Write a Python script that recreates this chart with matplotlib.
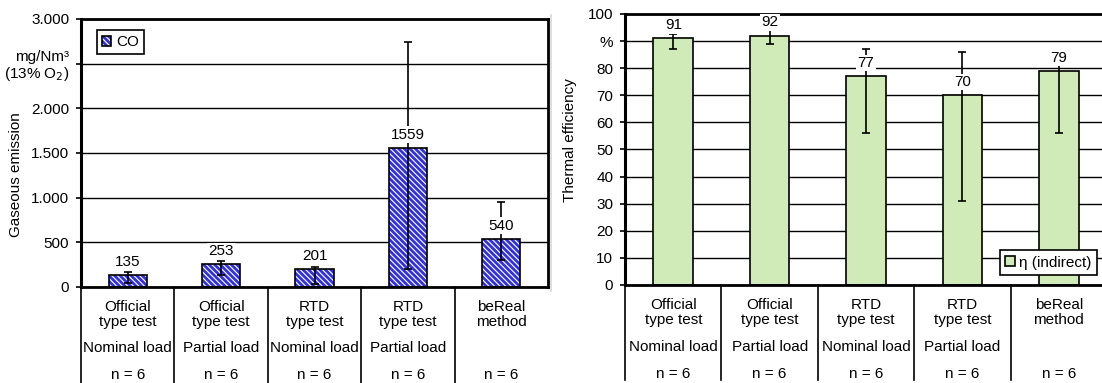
import numpy as np
import matplotlib
matplotlib.use("Agg")
import matplotlib.pyplot as plt
from matplotlib.lines import Line2D
from matplotlib.legend_handler import HandlerTuple

plt.rcParams['font.family'] = ['Liberation Sans', 'DejaVu Sans']
plt.rcParams['font.size'] = 11
plt.rcParams['hatch.linewidth'] = 2.0

# categories shown in the table under both charts
methods = ['Official\ntype test', 'Official\ntype test', 'RTD\ntype test',
           'RTD\ntype test', 'beReal\nmethod']
loads = ['Nominal load', 'Partial load', 'Nominal load', 'Partial load', '']
samples = ['n = 6', 'n = 6', 'n = 6', 'n = 6', 'n = 6']

# CO emission, mg/Nm3 at 13% O2 (mean, range ends)
co = np.array([135, 253, 201, 1559, 540])
co_low = np.array([45, 135, 30, 200, 300])
co_high = np.array([170, 295, 225, 2745, 950])

# thermal efficiency, % (indirect method)
eta = np.array([91, 92, 77, 70, 79])
eta_low = np.array([87, 89, 56, 31, 56])
eta_high = np.array([92.5, 94, 87, 86, 85])

co_ticks = [0, 500, 1000, 1500, 2000, 2500, 3000]
co_ticklabels = ['0', '500', '1.000', '1.500', '2.000', 'mg/Nm³\n(13% O$_2$)', '3.000']
eta_ticks = list(range(0, 101, 10))
eta_ticklabels = ['0', '10', '20', '30', '40', '50', '60', '70', '80', '%', '100']

BLUE = '#3030E0'
GREEN = '#D0EAB8'

fig = plt.figure(figsize=(11.02, 3.83), dpi=100)
ax1 = fig.add_axes([0.0735, 0.2507, 0.4238, 0.6997])
ax2 = fig.add_axes([0.5672, 0.2559, 0.4374, 0.7076])

x = np.arange(len(co))
width = 0.41


def style_axis(ax, ticks, ticklabels, ymax):
    ax.set_xlim(-0.5, len(x) - 0.5)
    ax.set_ylim(0, ymax)
    ax.set_yticks(ticks)
    ax.set_yticklabels(ticklabels, linespacing=1.1)
    ax.set_xticks([])
    ax.tick_params(axis='y', direction='out', length=3.5, width=1.2, pad=5)
    ax.yaxis.grid(True, color='black', linewidth=1.0)
    ax.set_axisbelow(True)
    ax.spines['left'].set_linewidth(2.2)
    ax.spines['top'].set_linewidth(2.0)
    ax.spines['right'].set_linewidth(2.0)
    ax.spines['bottom'].set_linewidth(2.0)


def draw_table(ax, bottom):
    # category table below the zero line
    trans = ax.get_xaxis_transform()
    for b in np.arange(-0.5, len(x) - 0.5):
        ax.add_line(Line2D([b, b], [0, bottom], transform=trans, color='black',
                           linewidth=1.2, clip_on=False))
    for i in x:
        ax.text(i, -0.103, methods[i], transform=trans, ha='center', va='center',
                linespacing=1.1)
        ax.text(i, -0.228, loads[i], transform=trans, ha='center', va='center')
        ax.text(i, -0.328, samples[i], transform=trans, ha='center', va='center')


def value_labels(ax, values):
    for i, v in zip(x, values):
        ax.annotate(f'{v}', (i, v), xytext=(0, 9.5), textcoords='offset points',
                    ha='center', va='center', zorder=5,
                    bbox=dict(facecolor='white', edgecolor='none', pad=1))


# left: gaseous emission
style_axis(ax1, co_ticks, co_ticklabels, 3000)
hatched = ax1.bar(x, co, width, color='white', edgecolor=BLUE, hatch='\\\\\\\\\\\\',
                  linewidth=0, zorder=2)
outline = ax1.bar(x, co, width, fill=False, edgecolor='black', linewidth=1.2, zorder=2.1)
ax1.errorbar(x, co, yerr=[co - co_low, co_high - co], fmt='none', ecolor='black',
             elinewidth=1.2, capsize=3, capthick=1.2, zorder=3)
value_labels(ax1, co)
ax1.set_ylabel('Gaseous emission')
ax1.yaxis.set_label_coords(-0.125, 0.42)
ax1.legend([(hatched[0], outline[0])], ['CO'], handler_map={tuple: HandlerTuple(ndivide=1)},
           loc='upper left', bbox_to_anchor=(0.034, 0.96), borderaxespad=0,
           fancybox=False, edgecolor='black', framealpha=1, handlelength=0.6,
           handleheight=0.6, handletextpad=0.3, borderpad=0.35)
ax1.get_legend().get_frame().set_linewidth(1.2)
draw_table(ax1, -0.36)

# right: thermal efficiency
style_axis(ax2, eta_ticks, eta_ticklabels, 100)
green = ax2.bar(x, eta, width, color=GREEN, edgecolor='black', linewidth=1.2, zorder=2)
ax2.errorbar(x, eta, yerr=[eta - eta_low, eta_high - eta], fmt='none', ecolor='black',
             elinewidth=1.2, capsize=3, capthick=1.2, zorder=3)
value_labels(ax2, eta)
ax2.set_ylabel('Thermal efficiency')
ax2.yaxis.set_label_coords(-0.10, 0.535)
ax2.legend([green[0]], ['η (indirect)'], loc='lower right', bbox_to_anchor=(0.979, 0.037),
           borderaxespad=0, fancybox=False, edgecolor='black', framealpha=1,
           handlelength=0.6, handleheight=0.6, handletextpad=0.3, borderpad=0.35)
ax2.get_legend().get_frame().set_linewidth(1.2)
draw_table(ax2, -0.35)

# faint frame edge between the two panels
fig.add_artist(Line2D([0.5, 0.5], [0.24, 0.96], transform=fig.transFigure,
                      color='#d8d8d8', linewidth=1.2))

fig.savefig('out.png', dpi=100)
